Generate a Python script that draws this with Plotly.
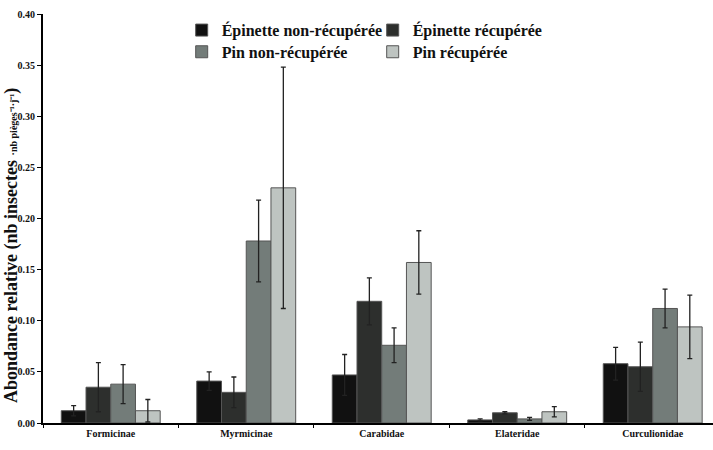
import plotly.graph_objects as go

categories = ["Formicinae", "Myrmicinae", "Carabidae", "Elateridae", "Curculionidae"]
series_names = ["Épinette non-récupérée", "Épinette récupérée", "Pin non-récupérée", "Pin récupérée"]
epinette_non = [0.012, 0.041, 0.047, 0.003, 0.058]
epinette_rec = [0.035, 0.030, 0.119, 0.010, 0.055]
pin_non = [0.038, 0.178, 0.076, 0.004, 0.112]
pin_rec = [0.012, 0.230, 0.157, 0.011, 0.094]
err_epinette_non = [0.005, 0.009, 0.020, 0.001, 0.016]
err_epinette_rec = [0.024, 0.015, 0.023, 0.001, 0.024]
err_pin_non = [0.019, 0.040, 0.017, 0.0015, 0.019]
err_pin_rec = [0.011, 0.118, 0.031, 0.005, 0.031]
y_ticks = [0.00, 0.05, 0.10, 0.15, 0.20, 0.25, 0.30, 0.35, 0.40]
y_title = "Abondance relative (nb insectes <span style='font-size:10px'>·nb pièges⁻¹·j⁻¹</span>)"

colors = ["#111111", "#2d2f2d", "#737c79", "#bec4c1"]
values = [epinette_non, epinette_rec, pin_non, pin_rec]
errors = [err_epinette_non, err_epinette_rec, err_pin_non, err_pin_rec]
legends = ["legend", "legend", "legend2", "legend2"]

FONT = "Liberation Serif"

fig = go.Figure()
for name, vals, errs, col, lg in zip(series_names, values, errors, colors, legends):
    fig.add_trace(go.Bar(
        x=categories, y=vals, name=name,
        marker=dict(color=col, line=dict(color="#555555", width=1)),
        error_y=dict(type="data", array=errs, visible=True, color="#222222",
                     thickness=1.3, width=2.5),
        legend=lg,
    ))

legend_common = dict(orientation="h", xanchor="left", yanchor="top",
                     entrywidth=146, entrywidthmode="pixels",
                     font=dict(family=FONT, size=16, weight="bold", color="#111111"),
                     bgcolor="rgba(0,0,0,0)", itemwidth=30, tracegroupgap=0)

fig.update_layout(
    width=713, height=450,
    margin=dict(l=43, r=0, t=14, b=27),
    plot_bgcolor="white", paper_bgcolor="white",
    barmode="group", bargap=0.27, bargroupgap=0,
    font=dict(family=FONT, color="#111111", weight="bold"),
    showlegend=True,
    legend=dict(x=0.207, y=1.002, **legend_common),
    legend2=dict(x=0.207, y=0.949, **legend_common),
    xaxis=dict(range=[-0.5, 4.445], showline=True, linecolor="black", linewidth=2,
               ticks="outside", tickson="boundaries", ticklen=3, tickcolor="black",
               tickfont=dict(family=FONT, size=10, weight="bold"),
               showgrid=False, zeroline=False),
    yaxis=dict(range=[0, 0.40], tickvals=y_ticks, tickformat=".2f",
               showline=True, linecolor="black", linewidth=2,
               ticks="outside", ticklen=4, tickcolor="black",
               tickfont=dict(family=FONT, size=10, weight="bold"),
               showgrid=False, zeroline=False),
    annotations=[dict(text=y_title, xref="paper", yref="paper", x=-0.046, y=0.433,
                      xanchor="center", yanchor="middle", textangle=-90, showarrow=False,
                      font=dict(family=FONT, size=18, weight="bold", color="#111111"))],
)

fig.write_html("out.html")
